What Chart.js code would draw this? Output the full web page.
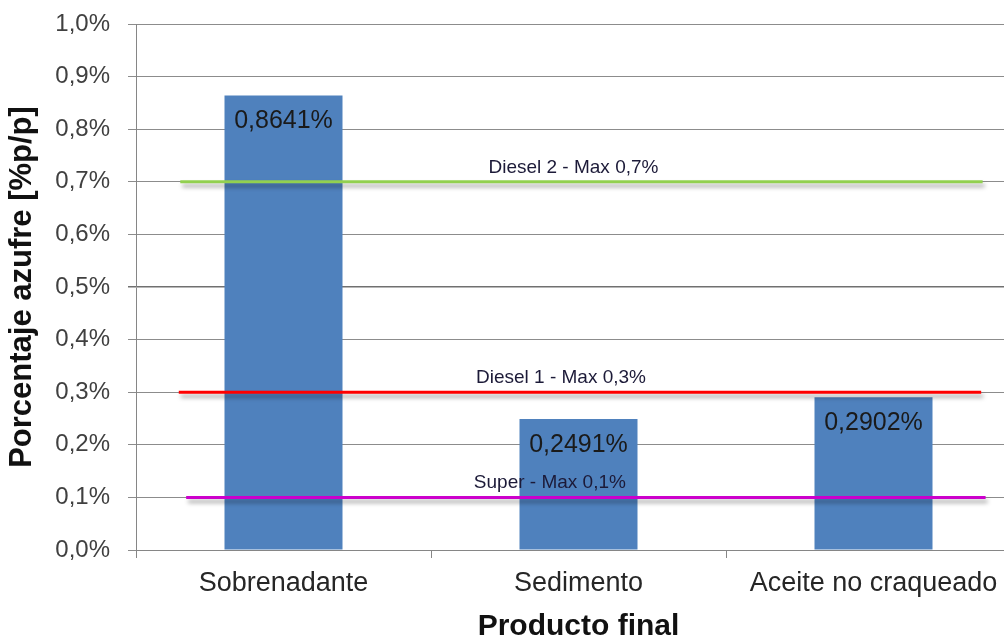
<!DOCTYPE html>
<html lang="es">
<head>
    <meta charset="UTF-8">
    <title>Porcentaje azufre por producto final</title>
    <script src="https://cdn.jsdelivr.net/npm/chart.js"></script>
    <style>
        html, body {
            margin: 0;
            padding: 0;
            background: #fff;
            overflow: hidden;
        }
        #wrap {
            width: 1030px;
            height: 637px;
        }
    </style>
</head>
<body>
    <div id="wrap">
        <canvas id="azufreChart" width="1030" height="637"></canvas>
    </div>

    <script>
        // datos
        const categories = ['Sobrenadante', 'Sedimento', 'Aceite no craqueado'];
        const sulfurPct = [0.8641, 0.2491, 0.2902];

        const limitNames = ['Diesel 2 - Max 0,7%', 'Diesel 1 - Max 0,3%', 'Super - Max 0,1%'];
        const limitValues = [0.7, 0.3, 0.1];
        const limitStart = [0.15, 0.145, 0.17];   // en unidades de categoria (0..3)
        const limitEnd = [2.87, 2.865, 2.88];
        const limitColors = ['#92D050', '#FF0000', '#CC00CC'];

        const yTicks = [0, 0.1, 0.2, 0.3, 0.4, 0.5, 0.6, 0.7, 0.8, 0.9, 1.0];

        const fmtPct = (v, d) => v.toFixed(d).replace('.', ',') + '%';

        // sombra para las lineas de limite
        const shadowPlugin = {
            id: 'lineShadow',
            beforeDatasetDraw(chart, args) {
                const ds = chart.data.datasets[args.index];
                if (ds.type !== 'line') return;
                const ctx = chart.ctx;
                ctx.save();
                ctx.shadowColor = 'rgba(0,0,0,0.35)';
                ctx.shadowBlur = 4;
                ctx.shadowOffsetX = 2;
                ctx.shadowOffsetY = 4;
            },
            afterDatasetDraw(chart, args) {
                const ds = chart.data.datasets[args.index];
                if (ds.type !== 'line') return;
                chart.ctx.restore();
            }
        };

        // etiquetas de valores y de limites
        const labelPlugin = {
            id: 'textLabels',
            afterDatasetsDraw(chart) {
                const ctx = chart.ctx;
                ctx.save();

                const bars = chart.getDatasetMeta(0).data;
                ctx.font = '25px "Liberation Sans", Arial, sans-serif';
                ctx.fillStyle = '#1a1a1a';
                ctx.textAlign = 'center';
                ctx.textBaseline = 'middle';
                bars.forEach((bar, i) => {
                    ctx.fillText(fmtPct(sulfurPct[i], 4), bar.x, bar.y + 26);
                });

                const offsets = [-8, -19, -36];
                ctx.font = '19px "Liberation Sans", Arial, sans-serif';
                ctx.fillStyle = '#1c1a38';
                ctx.textBaseline = 'alphabetic';
                limitNames.forEach((name, i) => {
                    const pts = chart.getDatasetMeta(i + 1).data;
                    const x = (pts[0].x + pts[1].x) / 2 + offsets[i];
                    ctx.fillText(name, x, pts[0].y - 9);
                });
                ctx.restore();
            }
        };

        const limitDatasets = limitNames.map((name, i) => ({
            type: 'line',
            label: name,
            data: [{ x: limitStart[i], y: limitValues[i] }, { x: limitEnd[i], y: limitValues[i] }],
            xAxisID: 'xl',
            borderColor: limitColors[i],
            borderWidth: 3,
            pointRadius: 0,
            fill: false,
            order: 0
        }));

        const ctx = document.getElementById('azufreChart').getContext('2d');

        new Chart(ctx, {
            type: 'bar',
            data: {
                labels: categories,
                datasets: [{
                    label: 'Porcentaje azufre',
                    data: sulfurPct,
                    xAxisID: 'x',
                    backgroundColor: '#4F81BD',
                    categoryPercentage: 1.0,
                    barPercentage: 0.4,
                    grouped: false,
                    order: 1
                }, ...limitDatasets]
            },
            options: {
                responsive: false,
                animation: false,
                layout: {
                    padding: { left: 0, right: 9, top: 24, bottom: 0 }
                },
                plugins: {
                    legend: { display: false },
                    tooltip: { enabled: false }
                },
                scales: {
                    x: {
                        type: 'category',
                        offset: true,
                        grid: {
                            offset: true,
                            drawOnChartArea: false,
                            tickLength: 8,
                            color: '#868686'
                        },
                        border: { color: '#868686', width: 1 },
                        ticks: {
                            color: '#262626',
                            padding: 9,
                            maxRotation: 0,
                            font: { family: '"Liberation Sans", Arial, sans-serif', size: 27 }
                        },
                        title: {
                            display: true,
                            text: 'Producto final',
                            color: '#111',
                            padding: { top: 0, bottom: -8 },
                            font: { family: '"Liberation Sans", Arial, sans-serif', size: 30, weight: 'bold' }
                        },
                        afterFit(scale) {
                            scale.height = 87;
                            scale.paddingLeft = 0;
                            scale.paddingRight = 0;
                        }
                    },
                    xl: {
                        type: 'linear',
                        display: false,
                        offset: false,
                        min: 0,
                        max: 3
                    },
                    y: {
                        min: 0,
                        max: 1,
                        afterBuildTicks(scale) {
                            scale.ticks = yTicks.map(v => ({ value: v }));
                        },
                        grid: {
                            tickLength: 8,
                            color: (c) => c.tick && c.tick.value === 0.5 ? '#707070' : '#8c8c8c',
                            lineWidth: (c) => c.tick && c.tick.value === 0.5 ? 1.5 : 1
                        },
                        border: { color: '#868686', width: 1 },
                        ticks: {
                            color: '#404040',
                            padding: 18,
                            font: { family: '"Liberation Sans", Arial, sans-serif', size: 24 },
                            callback: (v) => fmtPct(v, 1)
                        },
                        title: {
                            display: true,
                            text: 'Porcentaje azufre [%p/p]',
                            color: '#111',
                            padding: { top: 4, bottom: 0 },
                            font: { family: '"Liberation Sans", Arial, sans-serif', size: 31, weight: 'bold' }
                        },
                        afterFit(scale) {
                            scale.width = 136;
                            scale.paddingTop = 0;
                            scale.paddingBottom = 0;
                        }
                    }
                }
            },
            plugins: [shadowPlugin, labelPlugin]
        });
    </script>
</body>
</html>
